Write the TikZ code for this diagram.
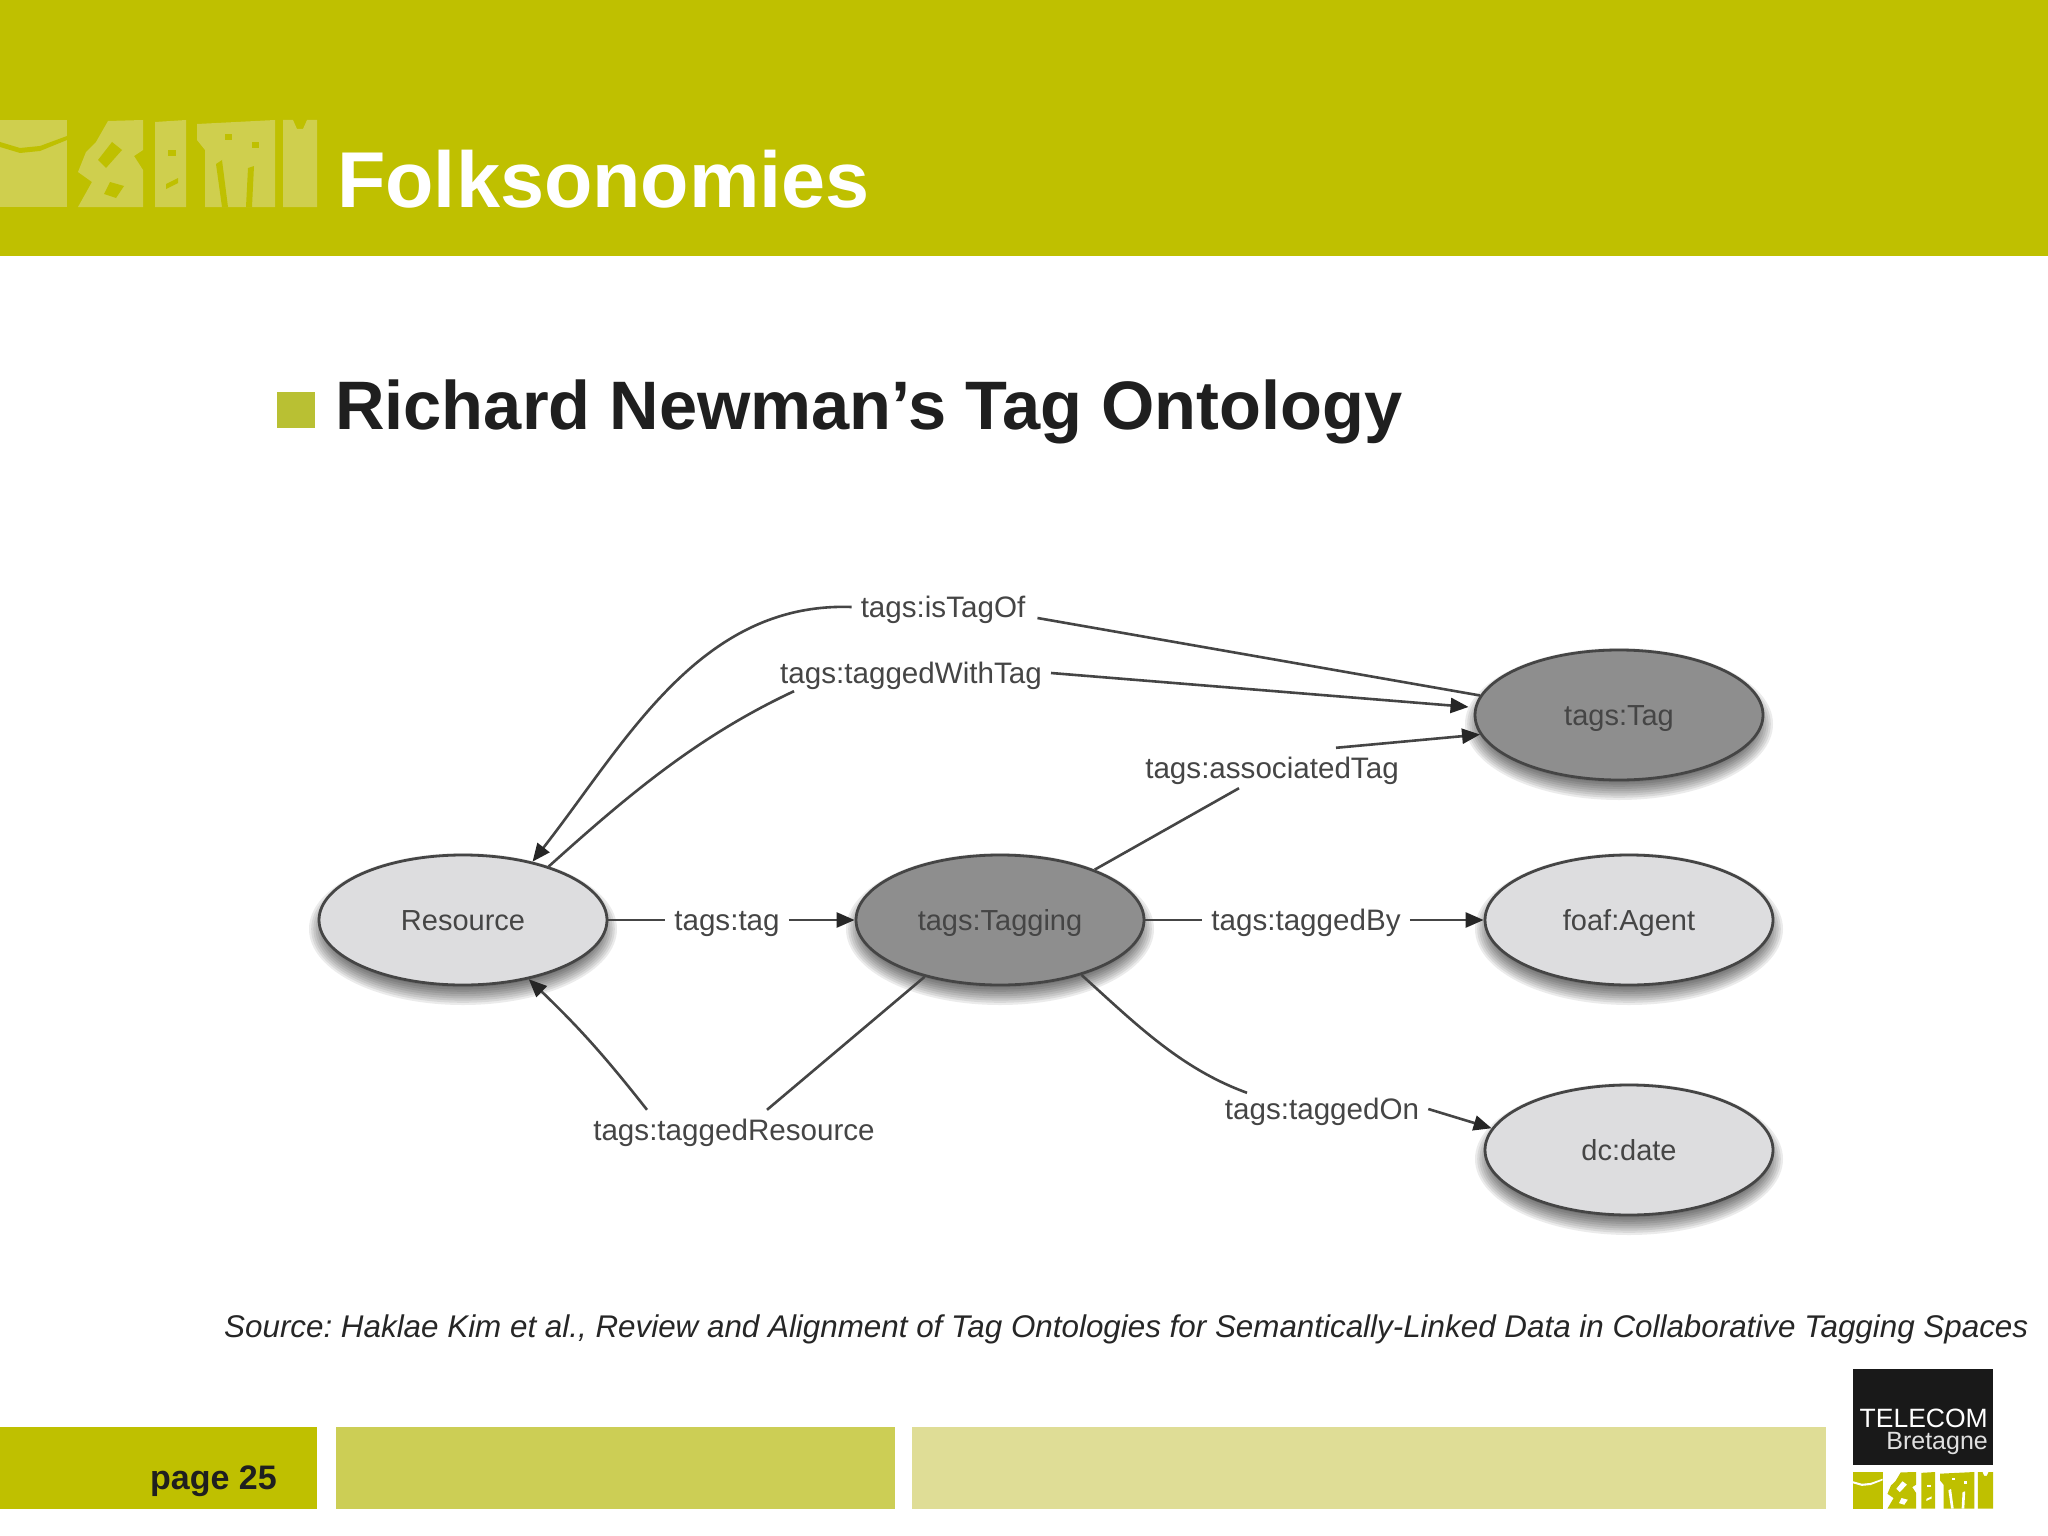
\documentclass[tikz,border=0pt]{standalone}
\usepackage{fontspec}
\setmainfont{Liberation Sans}
\usetikzlibrary{arrows.meta,shapes.geometric}
\frenchspacing
\definecolor{olivebar}{HTML}{BFC000}
\definecolor{olivemid}{HTML}{CCCE55}
\definecolor{olivepale}{HTML}{DFDD96}
\definecolor{markpale}{HTML}{CFCF4E}
\definecolor{bulletcol}{HTML}{B9C033}
\definecolor{inkgrey}{HTML}{454545}
\definecolor{lightell}{HTML}{DDDDDF}
\definecolor{darkell}{HTML}{8E8E8E}
\tikzset{
  x=1pt,y=-1pt,
  ontonode/.style={ellipse,draw=inkgrey,line width=2.8pt,minimum width=288pt,minimum height=130pt,inner sep=0pt,text=inkgrey,text height=21pt,text depth=1pt,font=\fontsize{29}{34}\selectfont},
  lightnode/.style={ontonode,fill=lightell},
  darknode/.style={ontonode,fill=darkell},
  proplabel/.style={inner sep=9pt,text=inkgrey,text height=21pt,text depth=1pt,font=\fontsize{29.6}{35}\selectfont},
  conn/.style={draw=inkgrey,line width=2.6pt},
  arr/.style={conn,-{Triangle[length=18pt,width=15pt,color=black!85]}},
  flat/.style={anchor=base west,inner sep=0pt}
}
\newcommand{\softshadow}[2]{%
  \foreach \k in {0,...,10}{
    \fill[black,opacity=0.08] (#1,#2+9) ellipse [x radius=144+10-2.2*\k, y radius=65+11-2.2*\k];
  }}
\newcommand{\ecmark}[2]{%
  \fill[#1] (0,0) rectangle (67,87);
  \fill[#2] (0,22) -- (20,28) -- (40,26) -- (67,16) -- (67,20) -- (40,31) -- (20,33) -- (0,27) -- cycle;
  \fill[#1] (108,1) -- (143,0) -- (143,30) -- (134,36) -- (143,50) -- (143,87) -- (78,87) -- (92,62) -- (78,52) -- (86,32) -- (96,22) -- cycle;
  \fill[#2] (112,22) -- (122,30) -- (106,48) -- (98,40) -- cycle;
  \fill[#2] (110,62) -- (124,66) -- (116,78) -- (104,74) -- cycle;
  \fill[#1] (155,2) -- (186,0) -- (186,87) -- (155,87) -- cycle;
  \fill[#2] (168,30) -- (176,30) -- (176,36) -- (168,36) -- cycle;
  \fill[#2] (166,64) -- (178,58) -- (178,63) -- (166,69) -- cycle;
  \fill[#1] (197,4) -- (275,0) -- (275,87) -- (205,87) -- (205,30) -- (197,20) -- cycle;
  \fill[#2] (216,44) -- (222,40) -- (228,87) -- (222,87) -- cycle;
  \fill[#2] (248,48) -- (254,46) -- (252,87) -- (246,87) -- cycle;
  \fill[#2] (225,14) -- (232,14) -- (232,20) -- (225,20) -- cycle;
  \fill[#2] (252,22) -- (259,22) -- (259,28) -- (252,28) -- cycle;
  \fill[#1] (283,0) -- (293,0) -- (297,9) -- (303,9) -- (307,0) -- (317,0) -- (317,87) -- (283,87) -- cycle;
}
\begin{document}
\begin{tikzpicture}
\useasboundingbox (0,0) rectangle (2048,1536);
\fill[white] (0,0) rectangle (2048,1536);
% header
\fill[olivebar] (0,0) rectangle (2048,256);
\begin{scope}[shift={(0,120)}]
  \ecmark{markpale}{olivebar}
\end{scope}
\node[flat,text=white,font=\fontsize{79.2}{94}\bfseries\selectfont] (title) at (337,207) {Folksonomies};
% bullet
\fill[bulletcol] (277,392) rectangle (315,428);
\node[flat,text=black!88,font=\fontsize{68.6}{82}\bfseries\selectfont] (head) at (335,429) {Richard Newman’s Tag Ontology};
% shadows
\softshadow{463}{920}
\softshadow{1000}{920}
\softshadow{1619}{715}
\softshadow{1629}{920}
\softshadow{1629}{1150}
% ellipses
\node[lightnode] (res) at (463,920) {Resource};
\node[darknode] (tagging) at (1000,920) {tags:Tagging};
\node[darknode] (tag) at (1619,715) {tags:Tag};
\node[lightnode] (agent) at (1629,920) {foaf:Agent};
\node[lightnode] (date) at (1629,1150) {dc:date};
% labels
\node[proplabel] (lof) at (943,607) {tags:isTagOf};
\node[proplabel] (lwt) at (911,673) {tags:taggedWithTag};
\node[proplabel] (lat) at (1272,768) {tags:associatedTag};
\node[proplabel] (ltg) at (727,920) {tags:tag};
\node[proplabel] (lby) at (1306,920) {tags:taggedBy};
\node[proplabel] (lon) at (1322,1109) {tags:taggedOn};
\node[proplabel] (lres) at (734,1130) {tags:taggedResource};
% connectors
\draw[conn] (tag.172) -- ([xshift=3pt,yshift=-11pt]lof.east);
\draw[arr] (lof.west) to[out=178,in=52,looseness=0.95] (res.40);
\draw[conn] (res.32) to[out=42,in=205,looseness=0.9] ([xshift=-117pt,yshift=2pt]lwt.south);
\draw[arr,shorten >=6pt] (lwt.east) -- (tag.177);
\draw[conn] (tagging.28.7) -- ([xshift=-33pt]lat.south);
\draw[arr] ([xshift=64pt]lat.north) -- (tag.188);
\draw[conn] (res.east) -- (ltg.west);
\draw[arr] (ltg.east) -- (tagging.west);
\draw[conn] (tagging.east) -- (lby.west);
\draw[arr] (lby.east) -- (agent.west);
\draw[conn] (tagging.-34) to[out=-42,in=160,looseness=0.9] ([xshift=-75pt,yshift=-4pt]lon.north);
\draw[arr] (lon.east) -- (date.171);
\draw[conn] (tagging.217.6) -- ([xshift=33pt]lres.north);
\draw[arr] ([xshift=-87pt]lres.north) to[bend right=4] (res.-42.4);
% source
\node[flat,text=black!85,font=\fontsize{31.37}{38}\itshape\selectfont] (src) at (224,1337) {Source: Haklae Kim et al., Review and Alignment of Tag Ontologies for Semantically-Linked Data in Collaborative Tagging Spaces};
% footer
\fill[olivebar] (0,1427) rectangle (317,1509);
\fill[olivemid] (336,1427) rectangle (895,1509);
\fill[olivepale] (912,1427) rectangle (1826,1509);
\node[flat,text=black!88,font=\fontsize{34}{40}\bfseries\selectfont] (page) at (150,1489) {page 25};
% logo
\fill[black!90] (1853,1369) rectangle (1993,1465);
\node[anchor=base east,inner sep=0pt,text=white,font=\fontsize{26.5}{32}\selectfont] (telecom) at (1988,1427) {TELECOM};
\node[anchor=base east,inner sep=0pt,text=white!88!black,font=\fontsize{25}{30}\selectfont] (bret) at (1988,1449) {Bretagne};
\begin{scope}[shift={(1853,1472)},xscale=0.4416,yscale=0.42]
  \ecmark{olivebar}{white}
\end{scope}
\end{tikzpicture}
\end{document}
